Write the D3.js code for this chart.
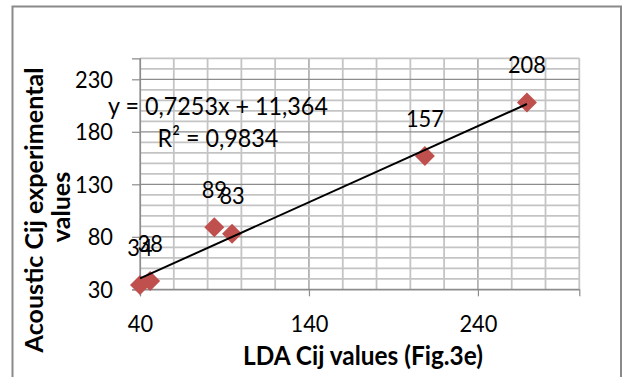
<!DOCTYPE html>
<html>
  <head>
    <title>Acoustic vs LDA Cij</title>
    <script src="https://cdn.jsdelivr.net/npm/d3@7"></script>
    <style>
      body { margin: 0; background: #fff; }
      text { font-family: Lato, "Open Sans", sans-serif; fill: #000; }
      /* the source picture is stretched a little vertically */
      .tall { transform-box: fill-box; transform-origin: center; transform: scaleY(1.1); }
    </style>
  </head>
  <body>
  <div id="chart"></div>
  <script type="text/javascript">

    // values
    var ldaVals = [40, 46, 84, 94.5, 208.6, 269];
    var acousticVals = [34, 38, 89, 83, 157, 208];
    var xTicks = [40, 140, 240];
    var yTicks = [30, 80, 130, 180, 230];
    var xMinor = d3.range(40, 301, 20);
    var yMinor = d3.range(30, 251, 10);
    var slope = 0.7253, intercept = 11.364;
    var eqLines = ["y = 0,7253x + 11,364", "R² = 0,9834"];

    var W = 623, H = 377;
    var svg = d3.select("#chart")
        .append("svg")
        .attr("width", W)
        .attr("height", H);

    // font size that makes a string a given width
    function sizeFor(str, w, bold) {
      var t = svg.append("text").style("font-size", "100px")
        .style("font-weight", bold ? "bold" : "normal").text(str);
      var len = t.node().getComputedTextLength();
      t.remove();
      return 100 * w / len;
    }
    var numSize = sizeFor("208", 38) + "px";
    var eqSize = sizeFor(eqLines[0], 220) + "px";
    var yTitleSize = sizeFor("Acoustic Cij experimental", 285, true) + "px";

    // outer chart frame (bottom edge falls off the picture)
    svg.append("path")
      .attr("d", "M12.5," + H + "V6.5H621V" + H)
      .style("fill", "none")
      .style("stroke", "#8a8a8a")
      .style("stroke-width", 2);

    var x = d3.scaleLinear().domain([40, 300]).range([140, 579.3]);
    var y = d3.scaleLinear().domain([30, 250]).range([289.3, 58.3]);

    // grid
    var grid = svg.append("g");
    grid.selectAll(".vx").data(xMinor).enter().append("line")
      .attr("x1", function(d) { return x(d); })
      .attr("x2", function(d) { return x(d); })
      .attr("y1", y(30)).attr("y2", y(250))
      .style("stroke", function(d) { return (d - 40) % 100 == 0 ? "#8c8c8c" : "#c4c4c4"; })
      .style("stroke-width", function(d) { return (d - 40) % 100 == 0 ? 1.2 : 1.8; });
    grid.selectAll(".hy").data(yMinor).enter().append("line")
      .attr("y1", function(d) { return y(d); })
      .attr("y2", function(d) { return y(d); })
      .attr("x1", x(40)).attr("x2", x(300))
      .style("stroke", function(d) { return (d - 30) % 50 == 0 ? "#8c8c8c" : "#c4c4c4"; })
      .style("stroke-width", function(d) { return (d - 30) % 50 == 0 ? 1.2 : 1.8; });

    // axes
    var yAxis = svg.append("g")
      .attr("transform", "translate(" + x(40) + ",0)")
      .call(d3.axisLeft(y).tickValues(yTicks).tickSize(8).tickPadding(19));
    var xAxis = svg.append("g")
      .attr("transform", "translate(0," + y(30) + ")")
      .call(d3.axisBottom(x).tickValues(xTicks).tickSize(7).tickPadding(19));
    [xAxis, yAxis].forEach(function(a) {
      a.select(".domain").style("stroke", "#8c8c8c").style("stroke-width", 1.2);
      a.selectAll(".tick line").style("stroke", "#8c8c8c").style("stroke-width", 1.2);
      a.selectAll("text").attr("class", "tall")
        .style("font-family", "Lato").style("font-size", numSize).attr("fill", "#000");
    });

    // points
    var pts = ldaVals.map(function(d, i) { return {x: d, y: acousticVals[i]}; });
    svg.selectAll(".pt").data(pts).enter().append("path")
      .attr("d", d3.symbol().type(d3.symbolSquare).size(200))
      .attr("transform", function(d) { return "translate(" + x(d.x) + "," + y(d.y) + ") rotate(45)"; })
      .style("fill", "#c0504d");

    // trend line
    var ext = d3.extent(ldaVals);
    svg.append("line")
      .attr("x1", x(ext[0])).attr("y1", y(slope * ext[0] + intercept))
      .attr("x2", x(ext[1])).attr("y2", y(slope * ext[1] + intercept))
      .style("stroke", "#000")
      .style("stroke-width", 2);

    // data labels
    svg.selectAll(".lbl").data(pts).enter().append("text")
      .attr("class", "tall")
      .attr("x", function(d) { return x(d.x); })
      .attr("y", function(d) { return y(d.y) - 30; })
      .attr("text-anchor", "middle")
      .style("font-size", numSize)
      .text(function(d) { return d.y; });

    // trendline equation
    svg.selectAll(".eq").data(eqLines).enter().append("text")
      .attr("class", "tall")
      .attr("x", 218)
      .attr("y", function(d, i) { return 114 + i * 32; })
      .attr("text-anchor", "middle")
      .style("font-size", eqSize)
      .text(function(d) { return d; });

    svg.append("text")
      .attr("class", "tall")
      .attr("x", 363).attr("y", 364)
      .attr("text-anchor", "middle")
      .style("font-weight", "bold")
      .style("font-size", sizeFor("LDA Cij values (Fig.3e)", 240, true) + "px")
      .text("LDA Cij values (Fig.3e)");

    svg.append("text")
      .attr("transform", "translate(43,210) rotate(-90)")
      .attr("text-anchor", "middle")
      .style("font-weight", "bold")
      .style("font-size", yTitleSize)
      .text("Acoustic Cij experimental");

    svg.append("text")
      .attr("transform", "translate(70,207) rotate(-90)")
      .attr("text-anchor", "middle")
      .style("font-weight", "bold")
      .style("font-size", yTitleSize)
      .text("values");

  </script>
  </body>
</html>
